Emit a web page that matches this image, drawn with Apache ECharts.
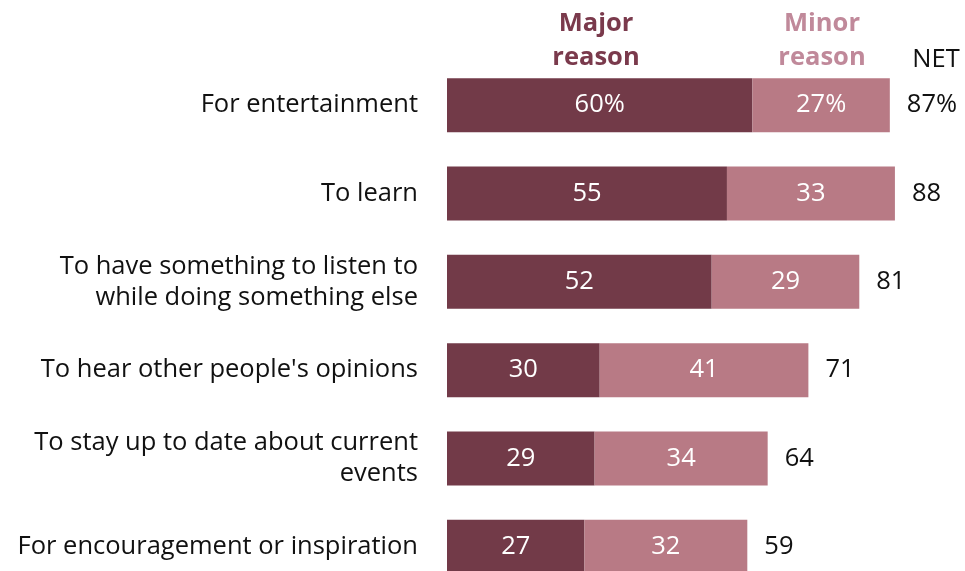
<!DOCTYPE html>
<html>
<head>
<meta charset="utf-8">
<script src="https://cdn.jsdelivr.net/npm/echarts@6/dist/echarts.min.js"></script>
<style>
  html, body { margin: 0; padding: 0; background: #ffffff; }
  #chart { width: 965px; height: 571px; }
</style>
</head>
<body>
<div id="chart"></div>
<script>
// Reasons for listening, share of respondents
const categories = [
  'For entertainment',
  'To learn',
  'To have something to listen to\nwhile doing something else',
  "To hear other people's opinions",
  'To stay up to date about current\nevents',
  'For encouragement or inspiration'
];
const majorReason = [60, 55, 52, 30, 29, 27];
const minorReason = [27, 33, 29, 41, 34, 32];
const netValues = [87, 88, 81, 71, 64, 59];

const FONT = 'Open Sans';
const SIZE = 25.5;
const MAJOR_COLOR = '#723a48';
const MINOR_COLOR = '#b87a85';

const chart = echarts.init(document.getElementById('chart'), null, { renderer: 'canvas' });

// first row carries the percent sign
const withPct = (v, i) => (i === 0 ? v + '%' : String(v));

chart.setOption({
  animation: false,
  grid: {
    left: 447, top: 61, width: 509, height: 530,
    containLabel: false, outerBoundsMode: 'none'
  },
  xAxis: { type: 'value', min: 0, max: 100, show: false },
  yAxis: {
    type: 'category',
    data: categories,
    inverse: true,
    axisLine: { show: false },
    axisTick: { show: false },
    splitLine: { show: false },
    axisLabel: {
      margin: 29,
      color: '#111111',
      fontFamily: FONT,
      fontSize: SIZE,
      lineHeight: 31,
      align: 'right'
    }
  },
  graphic: [
    {
      type: 'text', x: 596, y: 41,
      style: {
        text: 'Major\nreason', textAlign: 'center', textVerticalAlign: 'middle',
        fill: '#7a3a4c', fontFamily: FONT, fontWeight: 'bold', fontSize: SIZE, lineHeight: 34
      }
    },
    {
      type: 'text', x: 822, y: 41,
      style: {
        text: 'Minor\nreason', textAlign: 'center', textVerticalAlign: 'middle',
        fill: '#c0899a', fontFamily: FONT, fontWeight: 'bold', fontSize: SIZE, lineHeight: 34
      }
    },
    {
      type: 'text', x: 936, y: 60,
      style: {
        text: 'NET', textAlign: 'center', textVerticalAlign: 'middle',
        fill: '#111111', fontFamily: FONT, fontSize: SIZE
      }
    }
  ],
  series: [
    {
      name: 'Major reason',
      type: 'bar',
      stack: 'total',
      barWidth: 54,
      data: majorReason,
      itemStyle: { color: MAJOR_COLOR },
      label: {
        show: true, position: 'inside', color: '#ffffff',
        fontFamily: FONT, fontSize: SIZE,
        formatter: (p) => withPct(p.value, p.dataIndex)
      }
    },
    {
      name: 'Minor reason',
      type: 'bar',
      stack: 'total',
      barWidth: 54,
      data: minorReason,
      itemStyle: { color: MINOR_COLOR },
      label: {
        show: true, position: 'inside', color: '#ffffff',
        fontFamily: FONT, fontSize: SIZE,
        formatter: (p) => withPct(p.value, p.dataIndex)
      }
    },
    {
      name: 'NET',
      type: 'scatter',
      symbolSize: 0,
      itemStyle: { opacity: 1 },
      data: netValues.map((v, i) => [majorReason[i] + minorReason[i], i]),
      label: {
        show: true, position: 'right', distance: 17,
        color: '#111111', fontFamily: FONT, fontSize: SIZE,
        formatter: (p) => withPct(netValues[p.dataIndex], p.dataIndex)
      }
    }
  ]
});
</script>
</body>
</html>
